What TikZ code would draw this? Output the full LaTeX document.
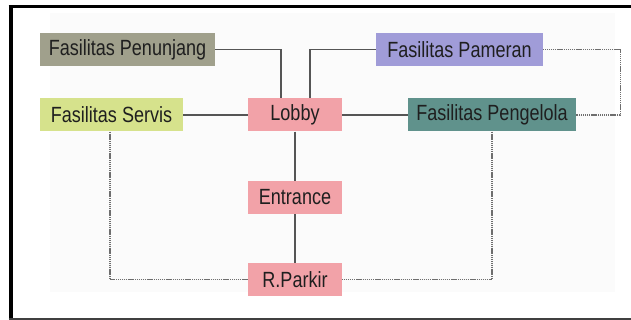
\documentclass[tikz,border=0pt]{standalone}
\usepackage{fontspec}
\setmainfont{Liberation Sans}
\newfontfamily\zonefont[FakeStretch=0.82]{Liberation Sans}
\usetikzlibrary{positioning}
\definecolor{penunjang}{RGB}{160,160,140}
\definecolor{servis}{RGB}{214,226,140}
\definecolor{ruang}{RGB}{242,162,168}
\definecolor{pameran}{RGB}{160,156,216}
\definecolor{pengelola}{RGB}{96,146,140}
\definecolor{garis}{RGB}{85,85,85}
\tikzset{
  zone/.style={
    rectangle, inner sep=0pt, minimum height=33pt,
    font=\zonefont\fontsize{22}{24}\selectfont, text=black!88
  },
  link/.style={
    draw=garis, line width=1.4pt
  },
  dotlink/.style={
    draw=garis!85, line width=1.4pt, dash pattern=on 1.2pt off 0.7pt
  }
}

\begin{document}
\begin{tikzpicture}[x=1pt,y=-1pt]
\useasboundingbox (0,0) rectangle (631,320);

% bingkai
\fill[black!1.5] (50,13) rectangle (615,292);
\draw[line width=4pt] (10.5,320) -- (10.5,6);
\draw[line width=3pt] (8.5,6.5) -- (631,6.5);
\draw[line width=2pt, black!75] (8.5,319) -- (631,319);

% ruang-ruang
\node[zone, fill=penunjang, minimum width=175pt] (pen)  at (127.5,49.5) {Fasilitas Penunjang};
\node[zone, fill=servis,    minimum width=143pt] (serv) at (111.5,115)  {Fasilitas Servis};
\node[zone, fill=ruang,     minimum width=94pt]  (lob)  at (295,115)    {Lobby};
\node[zone, fill=pameran,   minimum width=167pt] (pam)  at (459.5,49.5) {Fasilitas Pameran};
\node[zone, fill=pengelola, minimum width=168pt] (peng) at (492,115)    {Fasilitas Pengelola};
\node[zone, fill=ruang,     minimum width=94pt]  (ent)  at (295,197.5)  {Entrance};
\node[zone, fill=ruang,     minimum width=94pt]  (park) at (295,279.5)  {R.Parkir};

% hubungan langsung
\draw[link] (pen.east) -| ([xshift=-14pt]lob.north);
\draw[link] (pam.west) -| ([xshift=15pt]lob.north);
\draw[link] (serv) -- (lob);
\draw[link] (lob) -- (peng);
\draw[link] (lob) -- (ent);
\draw[link] (ent) -- (park);

% hubungan tidak langsung
\draw[dotlink] (pam.east) -- ++(77,0) |- (peng.east);
\draw[dotlink] ([xshift=-1.5pt]serv.south) |- (park.west);
\draw[dotlink] (peng.south) |- (park.east);

\end{tikzpicture}
\end{document}
